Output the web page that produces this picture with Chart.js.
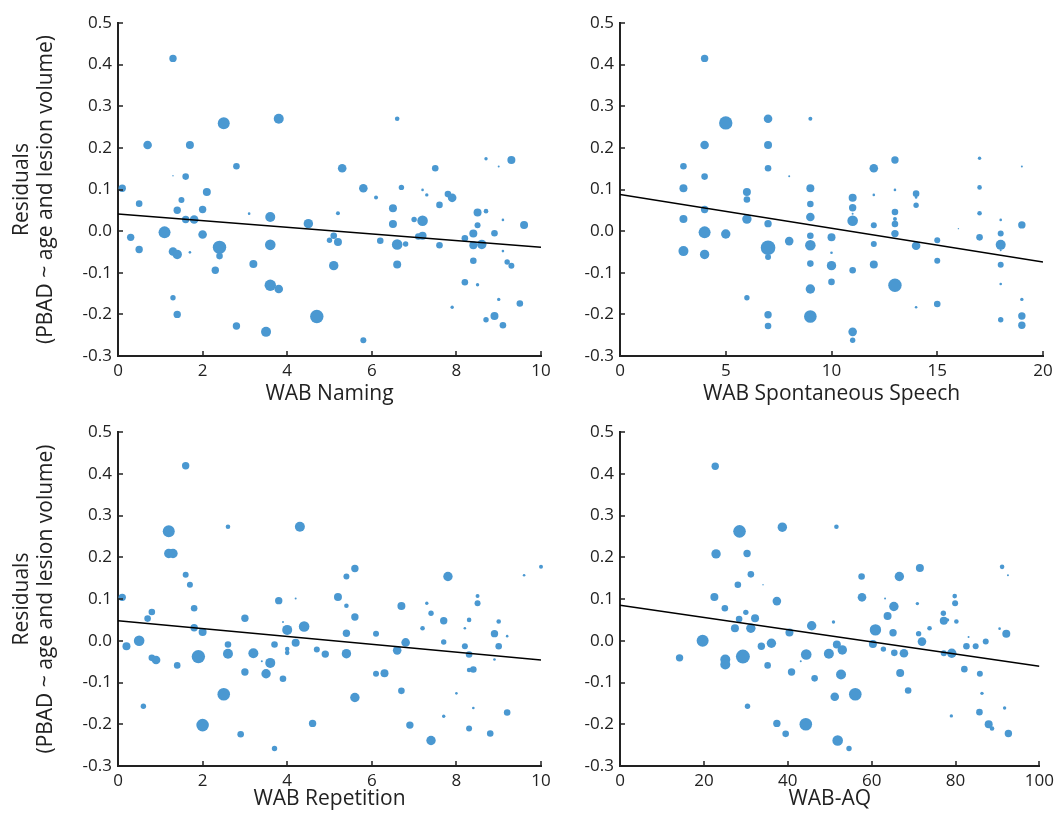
<!DOCTYPE html>
<html>
<head>
<meta charset="utf-8">
<script src="https://cdn.jsdelivr.net/npm/chart.js@4.4.1/dist/chart.umd.min.js"></script>
<style>
body { margin: 0; background: #fff; width: 1059px; height: 814px; overflow: hidden; position: relative; }
.panel { position: absolute; }
</style>
</head>
<body>
<div class="panel" style="left:0;top:0;width:560px;height:410px"><canvas id="naming"></canvas></div>
<div class="panel" style="left:560px;top:0;width:499px;height:410px"><canvas id="speech"></canvas></div>
<div class="panel" style="left:0;top:410px;width:560px;height:404px"><canvas id="repetition"></canvas></div>
<div class="panel" style="left:560px;top:410px;width:499px;height:404px"><canvas id="aq"></canvas></div>
<script>
// WAB Naming
var namingX = [1.3,2.5,3.8,0.7,1.7,2.8,1.3,1.6,0.1,2.1, 0.5,1.5,1.4,2.0,3.1,1.6,1.8,3.6,4.5,1.1,
  2.0,0.3,0.5,2.4,2.4,1.3,1.4,1.7,3.6,3.2, 2.3,3.6,3.8,1.3,1.4,4.7,2.8,3.5,
  6.6,5.3,7.5,8.7,9.0,9.3,5.8,6.1,6.7,7.2, 7.3,7.8,7.9,7.6,5.2,6.5,6.5,7.0,7.2,8.5,
  8.7,9.1,9.6,8.5,5.1,5.0,5.2,6.2,6.6,6.8, 7.1,7.2,7.6,8.2,8.4,8.4,8.6,8.9,5.1,6.6,
  8.4,9.1,9.2,9.3,8.2,8.5,7.9,9.0,9.5,8.9, 8.7,9.1,5.8];
var namingY = [0.415,0.259,0.270,0.207,0.207,0.156,0.133,0.131,0.103,0.094, 0.066,0.075,0.050,0.052,0.042,0.028,0.028,0.034,0.018,-0.003,
  -0.008,-0.015,-0.044,-0.039,-0.060,-0.049,-0.056,-0.051,-0.033,-0.079, -0.094,-0.130,-0.139,-0.160,-0.200,-0.205,-0.228,-0.242,
  0.270,0.151,0.151,0.174,0.155,0.171,0.103,0.081,0.105,0.099, 0.087,0.089,0.080,0.063,0.043,0.055,0.017,0.028,0.025,0.045,
  0.048,0.027,0.015,0.014,-0.011,-0.022,-0.026,-0.023,-0.032,-0.031, -0.013,-0.011,-0.034,-0.017,-0.006,-0.034,-0.032,-0.005,-0.083,-0.080,
  -0.071,-0.048,-0.074,-0.083,-0.123,-0.129,-0.183,-0.164,-0.174,-0.204, -0.213,-0.226,-0.262];
var namingSize = [3.7,6,5,4.3,4,3.3,0.7,3.3,3.7,4, 3.3,3,3.7,3.7,1.3,3.7,4.3,5,4.7,6,
  4.3,3.7,3.7,6.7,3.3,4.3,4.7,1.3,5.3,4, 3.7,5.7,4.3,2.7,3.7,6.7,3.7,5,
  2.3,4.3,3.3,1.7,1,4,4.3,2,2.7,1.3, 1.7,3.3,4.3,3.3,2,4,4,2.7,5.3,4,
  2.3,1.3,4,3,3.3,2.7,4,3.3,5.3,2.7, 3.3,4,3.3,3.3,4,4,4.7,3.3,4.7,4,
  3.3,1.3,2.7,3,3.3,1.7,1.7,1.7,3.3,4, 2.7,3.3,3];
var namingFitX = [0, 10];
var namingFitY = [0.041, -0.039];

// WAB Spontaneous Speech
var speechX = [3,3,3,3, 4,4,4,4,4,4, 5,5, 6,6,6,6, 7,7,7,7,7,7,7,7, 8,8,
  9,9,9,9,9,9,9,9,9, 10,10,10,10, 11,11,11,11,11,11,11, 12,12,12,12,12,
  13,13,13,13,13,13,13, 14,14,14,14,14, 15,15,15, 16, 17,17,17,17,
  18,18,18,18,18,18,18, 19,19,19,19,19];
var speechY = [0.156,0.103,0.029,-0.048, 0.415,0.207,0.131,0.052,-0.003,-0.056, 0.260,-0.007,
  0.094,0.076,0.029,-0.160, 0.270,0.207,0.151,0.018,-0.040,-0.062,-0.201,-0.228, 0.132,-0.024,
  0.270,0.103,0.065,0.034,-0.011,-0.034,-0.078,-0.139,-0.205, -0.015,-0.052,-0.083,-0.122,
  0.080,0.056,0.042,0.025,-0.094,-0.242,-0.262, 0.151,0.087,0.014,-0.031,-0.080,
  0.171,0.099,0.046,0.029,0.017,-0.006,-0.130, 0.090,0.081,0.062,-0.035,-0.183,
  -0.022,-0.071,-0.175, 0.006, 0.175,0.105,0.043,-0.015,
  0.027,-0.006,-0.033,-0.046,-0.081,-0.127,-0.213, 0.155,0.015,-0.164,-0.204,-0.226];
var speechSize = [3.3,4,4,5, 3.7,4.3,3.3,3.7,6,4.7, 6.7,4.7, 4,3.3,4.7,2.7,
  4.3,4,3.3,3.7,7.3,3,3.7,3.3, 1,4.3, 2,4,3.3,4.3,3.3,5.3,3.3,4.7,6.3, 4,1.3,4.7,3.3,
  4,3.7,1,5.3,3.3,4.3,2.7, 4.3,1.3,3,3,4, 3.7,1.3,3.3,2,3.3,3.7,6.7, 3.3,1.3,2.7,4.3,1.3,
  3,3,3.3, 0.7, 1.7,2.3,2.3,3.3, 1.3,3,5,1,3,1.3,2.7, 1,3.7,1.7,3.7,3.7];
var speechFitX = [0, 20];
var speechFitY = [0.088, -0.074];

// WAB Repetition
var repetitionX = [1.6,1.2,2.6,4.3,1.2,1.3,1.6,1.7,0.1,4.2, 3.8,1.8,0.8,0.7,3.0,3.9,1.8,4.4,4.0,2.0,
  0.5,0.2,2.6,3.7,4.2,4.0,4.0,4.7,4.9,1.9, 2.6,3.2,0.8,0.9,1.4,3.4,3.6,3.0,3.5,3.9,
  2.5,0.6,2.0,4.6,2.9,3.7,
  5.6,5.4,7.8,9.6,10.0,5.2,5.4,6.7,7.3,7.4, 8.5,8.5,5.6,7.7,8.3,9.0,7.2,8.2,5.4,6.1,
  8.9,9.2,6.8,7.7,8.2,9.0,5.4,6.6,8.3,8.9, 8.3,8.4,6.1,6.3,6.7,8.0,5.6,8.4,9.2,7.7,
  6.9,8.3,8.8,7.4];
var repetitionY = [0.419,0.262,0.273,0.273,0.209,0.209,0.158,0.134,0.104,0.101, 0.096,0.078,0.069,0.053,0.054,0.045,0.031,0.034,0.026,0.021,
  0.000,-0.013,-0.009,-0.009,-0.005,-0.020,-0.029,-0.021,-0.032,-0.038, -0.031,-0.030,-0.041,-0.046,-0.059,-0.049,-0.053,-0.075,-0.079,-0.091,
  -0.128,-0.157,-0.202,-0.198,-0.224,-0.258,
  0.173,0.154,0.154,0.157,0.177,0.105,0.084,0.083,0.090,0.066, 0.107,0.090,0.057,0.048,0.050,0.046,0.030,0.030,0.018,0.017,
  0.017,0.011,-0.004,-0.003,-0.013,-0.013,-0.031,-0.023,-0.033,-0.045, -0.070,-0.069,-0.079,-0.078,-0.120,-0.126,-0.136,-0.161,-0.172,-0.181,
  -0.202,-0.210,-0.222,-0.239];
var repetitionSize = [3.7,6,2.3,5,4.7,4.7,3,3,3.7,1, 3.7,3.3,3.3,3.3,3.7,1,3.7,5.3,5,4,
  5.3,4,3.3,3.3,4,2.3,2.3,3,3.7,6.7, 5,5,3.3,4.3,3.3,1,5,3.7,4.7,3.3,
  6.3,2.7,6.3,3.7,3.3,2.7,
  3.7,3,4.7,1.3,2,4,2.3,4,1.7,2.7, 2,3,3.7,3.7,2.3,2.3,2.3,1.3,3.7,3,
  3.7,1.3,4.3,2.7,3,3.3,4.7,4.3,3.3,1.3, 2.3,3.3,3,4,3.3,1.3,4.7,1.3,3.3,1.7,
  3.7,3,3.3,4.7];
var repetitionFitX = [0, 10];
var repetitionFitY = [0.048, -0.046];

// WAB-AQ
var aqX = [22.7,28.5,38.7,22.9,30.3,31.2,28.1,34.1,22.5,37.4, 25.0,30.0,28.4,32.2,27.4,31.2,40.4,45.7,19.7,14.2,
  25.1,25.1,29.3,33.7,36.1,43.1,44.4,49.8,35.2,40.9, 46.4,30.4,37.4,44.3,39.5,
  51.6,57.6,66.6,71.5,91.1,92.5,57.7,63.2,65.3,70.9, 63.8,50.9,60.9,65.1,71.2,73.8,77.1,77.2,78.1,79.8,
  79.9,80.2,90.5,92.1,51.7,53.0,60.3,62.8,65.4,67.7, 72.0,77.2,79.1,82.6,83.1,84.8,87.2,52.7,66.8,82.1,
  85.8,51.2,56.1,68.7,86.3,79.0,91.7,85.7,87.9,88.7, 92.6,51.9,54.6];
var aqY = [0.418,0.262,0.272,0.208,0.209,0.159,0.134,0.134,0.105,0.095, 0.078,0.068,0.052,0.054,0.030,0.030,0.020,0.036,0.000,-0.041,
  -0.045,-0.057,-0.038,-0.013,-0.006,-0.049,-0.033,-0.031,-0.059,-0.075, -0.090,-0.157,-0.198,-0.200,-0.223,
  0.273,0.154,0.154,0.174,0.177,0.157,0.104,0.101,0.082,0.089, 0.059,0.045,0.026,0.019,0.017,0.030,0.066,0.048,0.050,0.107,
  0.090,0.046,0.029,0.017,-0.009,-0.022,-0.008,-0.020,-0.029,-0.030, -0.002,-0.030,-0.030,-0.013,0.009,-0.013,-0.002,-0.081,-0.077,-0.068,
  -0.079,-0.134,-0.128,-0.119,-0.126,-0.180,-0.161,-0.171,-0.200,-0.210, -0.222,-0.239,-0.258];
var aqSize = [3.7,6.3,4.7,4.7,3.7,3.3,3.3,0.7,4,4.3, 3.3,2.7,3.3,4,4,4.7,4,4.7,6,3.7,
  5,5,7,3.7,4.7,1,5.3,5,3.3,3.7, 3.3,2.7,3.7,6.3,3.3,
  2.3,3.3,4.7,4,2.3,1,4.3,1,4.7,1.7, 4,1.7,5.7,3.7,2.7,2.3,2.7,4,1.7,2.3,
  3,2.3,1.3,4,4,4.7,4,2.7,3.3,4.3, 4.3,3,4.7,3.3,1,3,3,5,4,3.3,
  3,4.3,6.3,3.3,1.7,1.7,1.7,3.3,4,2.3, 3.7,5.3,2.7];
var aqFitX = [0, 100];
var aqFitY = [0.085, -0.061];

var yTicks = [-0.3, 0.5];
var dotColor = '#4a98d1';
var inkColor = '#222222';

var innerTicks = {
  id: 'innerTicks',
  afterDatasetsDraw: function(chart) {
    var ctx = chart.ctx, a = chart.chartArea;
    var xs = chart.scales.x, ys = chart.scales.y;
    ctx.save();
    ctx.strokeStyle = inkColor;
    ctx.lineWidth = 1.5;
    ctx.beginPath();
    xs.ticks.forEach(function(t) {
      var px = Math.round(xs.getPixelForValue(t.value));
      ctx.moveTo(px, a.bottom);
      ctx.lineTo(px, a.bottom - 5);
    });
    ys.ticks.forEach(function(t) {
      var py = Math.round(ys.getPixelForValue(t.value));
      ctx.moveTo(a.left, py);
      ctx.lineTo(a.left + 5, py);
    });
    ctx.stroke();
    ctx.restore();
  }
};

function makePanel(id, xs, ys, sizes, fitX, fitY, cfg) {
  var pts = xs.map(function(x, i) { return { x: x, y: ys[i], r: sizes[i] }; });
  var fit = fitX.map(function(x, i) { return { x: x, y: fitY[i] }; });
  new Chart(document.getElementById(id), {
    type: 'bubble',
    data: {
      datasets: [{
        type: 'scatter',
        data: fit,
        showLine: true,
        borderColor: '#000',
        borderWidth: 1.5,
        pointRadius: 0,
        order: 0
      }, {
        data: pts,
        backgroundColor: dotColor,
        borderWidth: 0,
        hoverRadius: 0,
        clip: false,
        order: 1
      }]
    },
    options: {
      responsive: true,
      maintainAspectRatio: false,
      animation: false,
      devicePixelRatio: 1,
      events: [],
      layout: { padding: { top: cfg.padTop, right: cfg.padRight, left: 0, bottom: 0 } },
      plugins: { legend: { display: false }, tooltip: { enabled: false } },
      scales: {
        x: {
          type: 'linear',
          min: 0,
          max: cfg.xMax,
          ticks: { stepSize: cfg.xStep, color: inkColor, padding: 5,
            font: { family: 'Open Sans', size: 17 } },
          grid: { display: true, drawOnChartArea: false, drawTicks: false },
          border: { display: true, color: inkColor, width: 2 },
          title: { display: true, text: cfg.xTitle, color: inkColor,
            font: { family: 'Open Sans', size: 21, lineHeight: 1.2 }, padding: { top: 0, bottom: cfg.titleBottom } },
          afterFit: function(s) { s.height = cfg.xHeight; }
        },
        y: {
          type: 'linear',
          min: yTicks[0],
          max: yTicks[1],
          ticks: { stepSize: 0.1, color: inkColor, padding: 6,
            font: { family: 'Open Sans', size: 17 },
            callback: function(v) { return (Math.round(v * 10) / 10).toFixed(1); } },
          grid: { display: true, drawOnChartArea: false, drawTicks: false },
          border: { display: true, color: inkColor, width: 2 },
          title: { display: cfg.yTitle, text: ['Residuals', '(PBAD ~ age and lesion volume)'], color: inkColor,
            font: { family: 'Open Sans', size: 21, lineHeight: 1.15 }, padding: { top: 10, bottom: 0 } },
          afterFit: function(s) { s.width = cfg.yWidth; }
        }
      }
    },
    plugins: [innerTicks]
  });
}

makePanel('naming', namingX, namingY, namingSize, namingFitX, namingFitY,
  { xMax: 10, xStep: 2, xTitle: 'WAB Naming', yTitle: true, yWidth: 118, padTop: 23, padRight: 19, xHeight: 54, titleBottom: 3 });
makePanel('speech', speechX, speechY, speechSize, speechFitX, speechFitY,
  { xMax: 20, xStep: 5, xTitle: 'WAB Spontaneous Speech', yTitle: false, yWidth: 60, padTop: 23, padRight: 16, xHeight: 54, titleBottom: 3 });
makePanel('repetition', repetitionX, repetitionY, repetitionSize, repetitionFitX, repetitionFitY,
  { xMax: 10, xStep: 2, xTitle: 'WAB Repetition', yTitle: true, yWidth: 118, padTop: 22, padRight: 19, xHeight: 48, titleBottom: 2 });
makePanel('aq', aqX, aqY, aqSize, aqFitX, aqFitY,
  { xMax: 100, xStep: 20, xTitle: 'WAB-AQ', yTitle: false, yWidth: 60, padTop: 22, padRight: 16, xHeight: 48, titleBottom: 2 });
</script>
</body>
</html>
